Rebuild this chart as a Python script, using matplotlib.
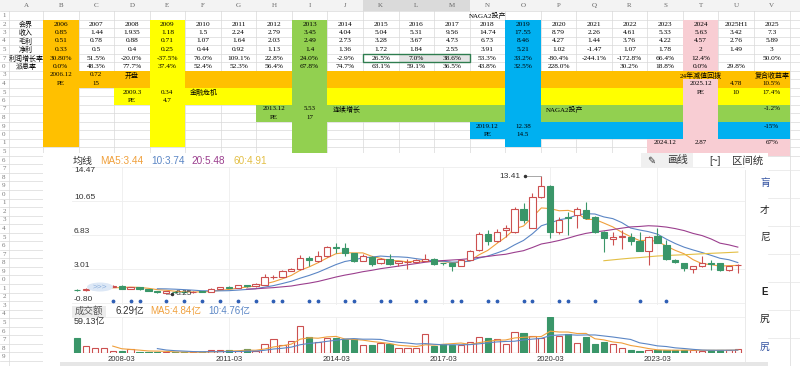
import matplotlib
matplotlib.use('Agg')
import matplotlib.pyplot as plt
from matplotlib.patches import Rectangle, Ellipse
import numpy as np
import pandas as pd

plt.rcParams['font.family'] = ['Liberation Sans', 'Noto Sans CJK SC', 'DejaVu Sans']
SERIF = ['Liberation Serif', 'Noto Sans CJK SC', 'DejaVu Sans']

# ---------------- spreadsheet values ----------------
col_letters = list('ABCDEFGHIJKLMNOPQRSTUV')
row_names = ['会界', '收入', '毛利', '净利', '利润增长率', '派息率']
years = ['2006', '2007', '2008', '2009', '2010', '2011', '2012', '2013', '2014', '2015', '2016',
         '2017', '2018', '2019', '2020', '2021', '2022', '2023', '2024', '2025H1', '2025']
revenue = ['0.85', '1.44', '1.935', '1.18', '1.5', '2.24', '2.79', '3.45', '4.04', '5.04', '5.31',
           '9.56', '14.74', '17.55', '8.79', '2.26', '4.61', '5.33', '5.63', '3.42', '7.3']
gross = ['0.51', '0.78', '0.88', '0.71', '1.07', '1.64', '2.03', '2.49', '2.73', '3.28', '3.67',
         '4.73', '6.73', '8.46', '4.27', '1.44', '3.76', '4.22', '4.57', '2.76', '5.89']
net = ['0.33', '0.5', '0.4', '0.25', '0.44', '0.92', '1.13', '1.4', '1.36', '1.72', '1.84',
       '2.55', '3.91', '5.21', '1.02', '-1.47', '1.07', '1.78', '2', '1.49', '3']
growth = ['30.80%', '51.5%', '-20.0%', '-37.5%', '76.0%', '109.1%', '22.8%', '24.0%', '-2.9%',
          '26.5%', '7.0%', '38.6%', '53.3%', '33.2%', '-80.4%', '-244.1%', '-172.8%', '66.4%',
          '12.4%', '', '50.0%']
payout = ['0.0%', '48.3%', '77.7%', '37.4%', '52.4%', '52.3%', '56.4%', '67.8%', '74.7%', '63.1%',
          '59.1%', '36.5%', '43.8%', '32.5%', '228.0%', '', '30.2%', '18.8%', '0.0%', '29.8%', '']
table_rows = [years, revenue, gross, net, growth, payout]

# (row, column, text, align)
notes = [
    (1, 'N', 'NAGA2投产', 'c'),
    (8, 'B', '2006.12', 'c'), (8, 'C', '0.72', 'c'), (8, 'D', '开盘', 'c'),
    (8, 'T', '24年减值回拨', 'c'), (8, 'V', '复合收益率', 'c'),
    (9, 'B', 'PE', 'c'), (9, 'C', '15', 'c'), (9, 'T', '2025.12', 'c'), (9, 'U', '4.78', 'c'),
    (9, 'V', '10.5%', 'c'),
    (10, 'D', '2009.3', 'c'), (10, 'E', '0.34', 'c'), (10, 'F', '金融危机', 'l'),
    (10, 'T', 'PE', 'c'), (10, 'U', '10', 'c'), (10, 'V', '17.4%', 'c'),
    (11, 'D', 'PE', 'c'), (11, 'E', '4.7', 'c'),
    (12, 'H', '2013.12', 'c'), (12, 'I', '5.53', 'c'), (12, 'J', '连续增长', 'l'),
    (12, 'P', 'NAGA2投产', 'l'), (12, 'V', '-1.2%', 'c'),
    (13, 'H', 'PE', 'c'), (13, 'I', '17', 'c'),
    (14, 'N', '2019.12', 'c'), (14, 'O', '12.38', 'c'), (14, 'V', '-15%', 'c'),
    (15, 'N', 'PE', 'c'), (15, 'O', '14.5', 'c'),
    (16, 'S', '2024.12', 'c'), (16, 'T', '2.87', 'c'), (16, 'V', '67%', 'c'),
]
row_digits = ['1', '2', '3', '4', '5', '7', '0', '3', '4', '5', '6', '7', '8', '9', '0', '1', '5']

ORANGE, YELLOW, GREEN_C, BLUE_C, PINK = '#FFC000', '#FFFF00', '#92D050', '#00B0F0', '#F8CDD3'
# (first row, last row, first col, last col, colour)
fills = [
    (8, 9, 'B', 'V', ORANGE), (10, 11, 'D', 'V', YELLOW), (12, 13, 'H', 'V', GREEN_C),
    (14, 15, 'N', 'V', BLUE_C), (16, 17, 'S', 'V', PINK),
    (2, 16, 'B', 'B', ORANGE), (2, 16, 'E', 'E', YELLOW), (2, 17, 'I', 'I', GREEN_C),
    (2, 16, 'O', 'O', BLUE_C), (2, 17, 'T', 'T', PINK), (8, 8, 'T', 'T', ORANGE),
]

# ---------------- quarterly candles (2006-12 .. ) ----------------
opens = [0.68, 0.65, 0.78, 0.90, 1.05, 1.14, 0.82, 0.95, 0.72, 0.55, 0.36, 0.48, 0.44, 0.40, 0.50,
         0.46, 0.76, 1.00, 0.92, 1.18, 1.10, 1.25, 2.10, 2.15, 2.80, 3.02, 4.25, 3.92, 4.45, 5.50,
         5.42, 4.78, 3.95, 4.40, 3.65, 4.10, 3.73, 3.80, 3.80, 3.95, 4.12, 3.68, 3.66, 3.39, 4.03,
         5.10, 6.92, 6.17, 7.40, 7.21, 9.73, 7.66, 11.08, 12.38, 7.21, 8.85, 9.10, 9.60, 8.90, 7.21,
         6.40, 6.65, 6.65, 6.20, 5.04, 6.73, 5.72, 4.03, 3.66, 3.02, 3.36, 3.70, 3.66, 2.90, 3.42]
highs = [0.80, 0.85, 0.95, 1.10, 1.25, 1.20, 1.05, 1.00, 0.76, 0.60, 0.55, 0.55, 0.52, 0.55, 0.58,
         0.85, 1.05, 1.10, 1.25, 1.25, 1.40, 2.50, 2.40, 2.95, 3.10, 4.60, 4.45, 5.05, 5.55, 5.95,
         5.90, 4.85, 4.75, 4.50, 4.25, 4.75, 3.95, 4.10, 4.10, 4.75, 4.20, 3.75, 3.72, 4.10, 5.10,
         7.20, 7.40, 7.50, 7.96, 10.02, 10.44, 11.53, 13.41, 12.40, 8.90, 9.46, 10.02, 10.58, 9.00,
         7.30, 7.20, 7.40, 7.10, 7.21, 6.70, 7.60, 6.28, 4.10, 3.70, 3.40, 4.48, 4.03, 3.70, 3.40, 3.60]
lows = [0.55, 0.60, 0.72, 0.85, 1.00, 0.78, 0.76, 0.70, 0.50, 0.35, 0.25, 0.35, 0.36, 0.38, 0.42,
        0.44, 0.72, 0.85, 0.88, 1.05, 1.05, 1.20, 1.95, 2.10, 2.75, 2.95, 3.35, 3.85, 4.40, 4.80,
        4.50, 3.85, 3.90, 3.40, 3.60, 3.50, 3.40, 3.00, 3.70, 3.90, 3.45, 3.50, 2.75, 3.35, 4.00,
        5.05, 5.70, 6.10, 6.65, 7.10, 8.19, 7.60, 11.00, 6.47, 7.00, 6.84, 7.60, 8.60, 7.10, 4.96,
        5.72, 5.23, 5.70, 5.00, 3.47, 5.90, 4.00, 3.70, 2.83, 2.54, 3.30, 2.90, 2.85, 2.85, 2.60]
closes = [0.63, 0.78, 0.90, 1.05, 1.16, 0.82, 1.00, 0.74, 0.55, 0.40, 0.50, 0.42, 0.40, 0.48, 0.46,
          0.76, 1.00, 0.92, 1.18, 1.10, 1.35, 2.15, 2.15, 2.85, 3.00, 4.25, 4.05, 4.48, 5.50, 5.40,
          4.80, 3.95, 4.50, 3.62, 4.18, 3.55, 3.90, 3.86, 4.03, 4.10, 3.58, 3.64, 3.39, 4.03, 5.04,
          6.92, 6.17, 7.21, 7.60, 9.73, 8.53, 11.14, 12.38, 7.21, 8.53, 8.75, 9.75, 8.70, 7.21, 6.47,
          6.60, 6.75, 6.20, 5.04, 6.65, 5.98, 4.11, 3.77, 3.10, 3.36, 3.73, 3.62, 2.90, 3.39, 3.47]
# turnover, 亿
volume = [25.1, 12.0, 7.7, 8.7, 3.3, 3.3, 6.1, 2.1, 2.0, 2.0, 1.6, 1.1, 1.0, 1.0, 1.0,
          4.4, 4.4, 5.0, 3.3, 6.6, 3.3, 14.2, 22.4, 13.0, 20.0, 44.0, 25.7, 18.6, 24.0, 24.0,
          22.4, 22.4, 13.0, 13.0, 16.0, 14.0, 7.6, 7.6, 7.7, 30.6, 11.5, 14.0, 13.0, 13.0, 18.6,
          26.8, 24.0, 22.4, 15.3, 35.0, 32.3, 27.9, 25.0, 59.13, 28.0, 32.0, 16.0, 25.7, 15.3, 18.6,
          15.3, 7.6, 4.9, 3.8, 4.9, 4.9, 5.0, 4.2, 4.5, 4.8, 4.0, 4.5, 4.6, 4.8, 6.29]
div_idx = [4, 6, 7, 10, 12, 14, 16, 18, 20, 22, 23, 26, 27, 30, 31, 34, 35, 38, 39, 42, 43,
           46, 47, 50, 51, 54, 55, 58, 63, 66]
price_ticks = [-0.80, 3.01, 6.83, 10.65, 14.47]
vol_top = 59.13
date_tick_idx = [5, 17, 29, 41, 53, 65]
ma_windows = [5, 10, 20, 60]
price_legend = [('均线', '#333333', 73), ('MA5:3.44', '#f0a03c', 100), ('10:3.74', '#5b86c5', 151),
                ('20:5.48', '#9b3f8e', 191), ('60:4.91', '#e3bf45', 233)]
vol_legend = [('6.29亿', '#333333', 115), ('MA5:4.84亿', '#f0a03c', 150), ('10:4.76亿', '#5b86c5', 208)]

RED = '#cc5050'
GREEN = '#3a9669'
MA_COLORS = ['#f0a03c', '#5b86c5', '#9b3f8e', '#e3bf45']

# ---------------- figure ----------------
fig = plt.figure(figsize=(8, 3.66), dpi=100)
bg = fig.add_axes([0, 0, 1, 1])
bg.set_xlim(0, 800)
bg.set_ylim(366, 0)
bg.axis('off')

CW = 35.55


def col_left(j):
    return 9 if j == 0 else 43 + (j - 1) * CW


def col_right(j):
    return 43 + j * CW


def row_top(r):
    if r == 0:
        return 0
    if r == 1:
        return 10.5
    return 19.75 + (r - 2) * 8.5


def row_mid(r):
    return (row_top(r) + row_top(r + 1)) / 2


def cj(letter):
    return col_letters.index(letter)


# header row
bg.add_patch(Rectangle((0, 0), 800, 10.5, fc='#f3f3f3', ec='none'))
bg.add_patch(Rectangle((col_left(cj('K')), 0), col_right(cj('M')) - col_left(cj('K')), 10.5,
                       fc='#dadada', ec='none'))
for j, letter in enumerate(col_letters):
    bg.text((col_left(j) + col_right(j)) / 2, 5.5, letter, ha='center', va='center',
            fontsize=5, color='#666666', family=SERIF)

# grid lines
for j in range(len(col_letters) + 1):
    x = 9 if j == 0 else col_right(j - 1)
    bg.plot([x, x], [0, 366], color='#d9d9d9', lw=0.5, zorder=0.5)
for r in range(1, 19):
    bg.plot([0, 800], [row_top(r)] * 2, color='#d9d9d9', lw=0.5, zorder=0.5)

# coloured fills
for r0, r1, c0, c1, fc in fills:
    x0 = col_left(cj(c0))
    bg.add_patch(Rectangle((x0, row_top(r0)), col_right(cj(c1)) - x0, row_top(r1 + 1) - row_top(r0),
                           fc=fc, ec='none', zorder=1))

# selection K6:M6
sel_x0 = col_left(cj('K'))
bg.add_patch(Rectangle((col_left(cj('L')), row_top(6)), col_right(cj('M')) - col_left(cj('L')), 8.5,
                       fc='#e4e4e4', ec='none', zorder=1.2))
bg.add_patch(Rectangle((sel_x0, row_top(6)), col_right(cj('M')) - sel_x0, 8.5,
                       fc='none', ec='#2e7d4f', lw=1.0, zorder=1.5))

# table texts
for k, name in enumerate(row_names):
    bg.text(26, row_mid(2 + k), name, ha='center', va='center', fontsize=5, family=SERIF, zorder=2)
for k, vals in enumerate(table_rows):
    for j, t in enumerate(vals):
        bg.text((col_left(j + 1) + col_right(j + 1)) / 2, row_mid(2 + k), t, ha='center', va='center',
                fontsize=5.3, family=SERIF, zorder=2)
for r, letter, t, al in notes:
    j = cj(letter)
    if al == 'l':
        bg.text(col_left(j) + 5, row_mid(r), t, ha='left', va='center', fontsize=5, family=SERIF, zorder=2)
    else:
        bg.text((col_left(j) + col_right(j)) / 2, row_mid(r), t, ha='center', va='center',
                fontsize=5, family=SERIF, zorder=2)

# row numbers
for k, d in enumerate(row_digits):
    bg.text(4, row_mid(k + 1), d, ha='center', va='center', fontsize=5, color='#777777', family=SERIF)
y = row_top(18)
k = 6
while y + 8.55 < 366:
    bg.text(4, y + 4.3, str(k % 10), ha='center', va='center', fontsize=5, color='#777777', family=SERIF)
    bg.plot([0, 43], [y + 8.55] * 2, color='#d9d9d9', lw=0.5, zorder=0.5)
    y += 8.55
    k += 1

# stock app screenshot area
bg.add_patch(Rectangle((43, 152.5), 725, 214, fc='white', ec='none', zorder=3))
bg.add_patch(Rectangle((60, 362), 708, 4, fc='#e6e6e6', ec='none', zorder=3.1))
bg.plot([745, 745], [170, 366], color='#e6e6e6', lw=0.6, zorder=3.1)
for yy in [170, 198, 226, 254, 282, 310, 338]:
    bg.plot([768, 800], [yy, yy], color='#e4e4e4', lw=0.5, zorder=3.1)

# top bar texts
for t, c, x in price_legend:
    bg.text(x, 160.5, t, ha='left', va='center', fontsize=7.2, color=c, zorder=4)
bg.add_patch(Rectangle((641, 153), 52, 14, fc='#f0f0f0', ec='none', zorder=3.2))
bg.text(647, 160.5, '✎', ha='left', va='center', fontsize=7, color='#333333', family='DejaVu Sans', zorder=4)
bg.text(667, 160.5, '画线', ha='left', va='center', fontsize=7.5, color='#333333', zorder=4)
bg.text(709, 160.5, '[~]', ha='left', va='center', fontsize=7, color='#333333', zorder=4)
bg.text(732, 160.5, '区间统', ha='left', va='center', fontsize=7.5, color='#333333', zorder=4)
for t, c, yy, w in [('肓', '#3050a0', 183, 'normal'), ('才', '#222222', 210, 'normal'),
                    ('尼', '#222222', 237, 'normal'), ('E', '#222222', 292, 'bold'),
                    ('尻', '#222222', 319, 'normal'), ('尻', '#3050a0', 347, 'normal')]:
    bg.text(765, yy, t, ha='center', va='center', fontsize=7, color=c, weight=w, zorder=4)

# volume legend
bg.add_patch(Rectangle((72, 305.5), 34, 11, fc='#ececec', ec='none', zorder=3.2))
bg.text(89, 311, '成交额', ha='center', va='center', fontsize=6.8, color='#555555', zorder=4)
for t, c, x in vol_legend:
    bg.text(x, 311, t, ha='left', va='center', fontsize=7, color=c, zorder=4)

# ---------------- price panel ----------------
n = len(closes)
idx = np.arange(n)
o, h, l, c = map(np.array, (opens, highs, lows, closes))
up = c >= o
edge = np.where(up, RED, GREEN)
face = np.where(up, 'white', GREEN)

PX_L, PX_R, X0, DX = 72, 745, 77, 8.93
xlim = ((PX_L - X0) / DX, (PX_R - X0) / DX)

ax = fig.add_axes([PX_L / 800, (366 - 305) / 366, (PX_R - PX_L) / 800, 138 / 366])
ax.set_facecolor('none')
ax.set_xlim(*xlim)
ax.set_ylim(-1.02, 14.47)
ax.set_xticks(date_tick_idx)
ax.set_yticks(price_ticks)
ax.grid(color='#eeeeee', lw=0.6)
ax.tick_params(length=0, labelbottom=False, labelleft=False)
for s in ax.spines.values():
    s.set_visible(False)

cs = pd.Series(closes)
for w, mc in zip(ma_windows, MA_COLORS):
    ax.plot(idx, cs.rolling(w).mean(), color=mc, lw=0.8, zorder=2)

ax.vlines(idx, l, h, colors=edge, lw=0.8, zorder=3)
ax.bar(idx, np.maximum(np.abs(c - o), 0.06), bottom=np.minimum(o, c), width=0.7,
       color=face, edgecolor=edge, linewidth=0.8, zorder=4)

for v in price_ticks:
    top = v == price_ticks[-1]
    ax.text(0.003, v, f'{v:.2f}', transform=ax.get_yaxis_transform(), ha='left',
            va='top' if top else 'bottom', fontsize=6, color='#333333', zorder=6)

im = int(np.argmax(h))
ax.plot([im - 1.7, im], [h[im]] * 2, color='#999999', lw=0.6, zorder=5)
ax.plot([im - 1.8], [h[im]], 'o', ms=1.5, color='#333333', zorder=5)
ax.text(im - 2.3, h[im], f'{h[im]:.2f}', ha='right', va='center', fontsize=6, color='#333333', zorder=6)

imin = int(np.argmin(l))
ax.plot([imin, imin + 0.55], [l[imin]] * 2, color='#999999', lw=0.6, zorder=5)
ax.plot([imin + 0.65], [l[imin]], 'o', ms=1.5, color='#333333', zorder=5)
ax.text(imin + 1.1, l[imin], f'{l[imin]:.2f}', ha='left', va='center', fontsize=6, color='#333333', zorder=6)

ax.add_patch(Ellipse((100, 287), 26, 9, transform=bg.transData, fc='#dde8f6', ec='none', zorder=5))
ax.text(100, 287, '>>>', transform=bg.transData, ha='center', va='center', fontsize=6,
        color='#8db0dc', zorder=6)

ax.scatter(div_idx, np.full(len(div_idx), -0.58), s=3, color='#2f5fb5', zorder=5)

# ---------------- volume panel ----------------
axv = fig.add_axes([PX_L / 800, (366 - 353) / 366, (PX_R - PX_L) / 800, 36 / 366])
axv.set_facecolor('none')
axv.set_xlim(*xlim)
axv.set_ylim(0, vol_top)
axv.bar(idx, volume, width=0.7, color=face, edgecolor=edge, linewidth=0.8, zorder=3)
vs = pd.Series(volume)
axv.plot(idx, vs.rolling(5).mean(), color=MA_COLORS[0], lw=0.8, zorder=4)
axv.plot(idx, vs.rolling(10).mean(), color=MA_COLORS[1], lw=0.8, zorder=4)
quarters = pd.period_range('2006Q4', periods=n, freq='Q')
date_labels = [f'{q.year}-{q.end_time.month:02d}' for q in quarters]
axv.set_xticks(date_tick_idx)
axv.set_xticklabels([date_labels[i] for i in date_tick_idx])
axv.set_yticks([vol_top])
axv.grid(color='#eeeeee', lw=0.6)
axv.tick_params(length=0, labelsize=5.5, pad=2, labelleft=False, labelcolor='#333333')
for s in axv.spines.values():
    s.set_visible(False)
axv.text(0.003, vol_top, f'{vol_top:.2f}亿', transform=axv.get_yaxis_transform(), ha='left', va='top',
         fontsize=6.5, color='#333333', zorder=6)

fig.savefig('out.png', dpi=100)
